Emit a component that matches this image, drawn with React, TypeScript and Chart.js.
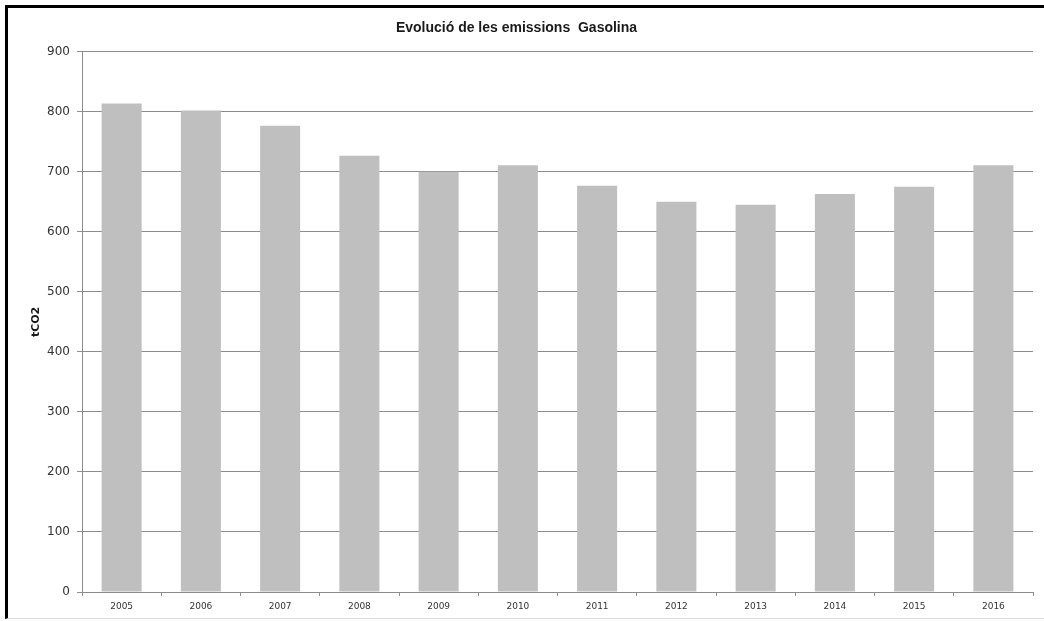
import React, { useEffect, useRef } from "react";
import { Chart, registerables } from "chart.js";

Chart.register(...registerables);

const categories = ["2005", "2006", "2007", "2008", "2009", "2010", "2011", "2012", "2013", "2014", "2015", "2016"];
const emissions = [814, 802, 777, 727, 700, 711, 677, 650, 645, 663, 675, 711];
const chartTitle = "Evolució de les emissions  Gasolina";
const yAxisTitle = "tCO2";

export default function App() {
  const ref = useRef<HTMLCanvasElement | null>(null);

  useEffect(() => {
    document.body.style.margin = "0";
    const canvas = ref.current;
    if (!canvas) return;
    const gridColor = "#8c8c8c";
    const chart = new Chart(canvas, {
      type: "bar",
      data: {
        labels: categories,
        datasets: [
          {
            label: "Gasolina",
            data: emissions,
            backgroundColor: "#bfbfbf",
            borderWidth: 0,
            categoryPercentage: 1,
            barPercentage: 0.505,
          },
        ],
      },
      options: {
        animation: false,
        responsive: false,
        maintainAspectRatio: false,
        devicePixelRatio: 1,
        layout: { padding: { left: 0, right: 1, top: 0, bottom: 0 } },
        plugins: {
          legend: { display: false },
          tooltip: { enabled: false },
          title: {
            display: true,
            text: chartTitle,
            color: "#1a1a1a",
            font: { family: "'Liberation Sans', Arial, sans-serif", size: 14, weight: "bold" },
            padding: { top: 20, bottom: 15 },
          },
        },
        scales: {
          x: {
            afterFit: (scale: any) => {
              scale.height = 29;
            },
            grid: {
              display: true,
              drawOnChartArea: false,
              drawTicks: true,
              tickLength: 4,
              color: gridColor,
              offset: true,
            },
            border: { display: true, color: gridColor },
            ticks: {
              color: "#333333",
              font: { family: "'DejaVu Sans', sans-serif", size: 9 },
              padding: 5,
              maxRotation: 0,
              autoSkip: false,
            },
          },
          y: {
            min: 0,
            max: 900,
            afterFit: (scale: any) => {
              scale.width = 82;
            },
            ticks: {
              stepSize: 100,
              color: "#333333",
              font: { family: "'DejaVu Sans', sans-serif", size: 12 },
              padding: 7,
            },
            grid: {
              color: gridColor,
              tickLength: 5,
              drawTicks: true,
            },
            border: { display: true, color: gridColor },
            title: {
              display: true,
              text: yAxisTitle,
              color: "#1a1a1a",
              font: { family: "'DejaVu Sans', sans-serif", size: 11, weight: "bold" },
              padding: { top: 30, bottom: 0 },
            },
          },
        },
      },
    });
    return () => chart.destroy();
  }, []);

  return (
    <div style={{ position: "absolute", left: 0, top: 0, width: 1044, height: 621, background: "#fff", overflow: "hidden" }}>
      <canvas ref={ref} width={1034} height={621} style={{ position: "absolute", left: 0, top: 0, width: 1034, height: 621 }} />
      <div
        style={{
          position: "absolute",
          left: 5,
          top: 5,
          width: 1100,
          height: 614,
          borderLeft: "3px solid #000",
          borderTop: "3px solid #000",
          borderBottom: "1px solid #dcdcdc",
          boxSizing: "border-box",
          pointerEvents: "none",
        }}
      />
    </div>
  );
}
